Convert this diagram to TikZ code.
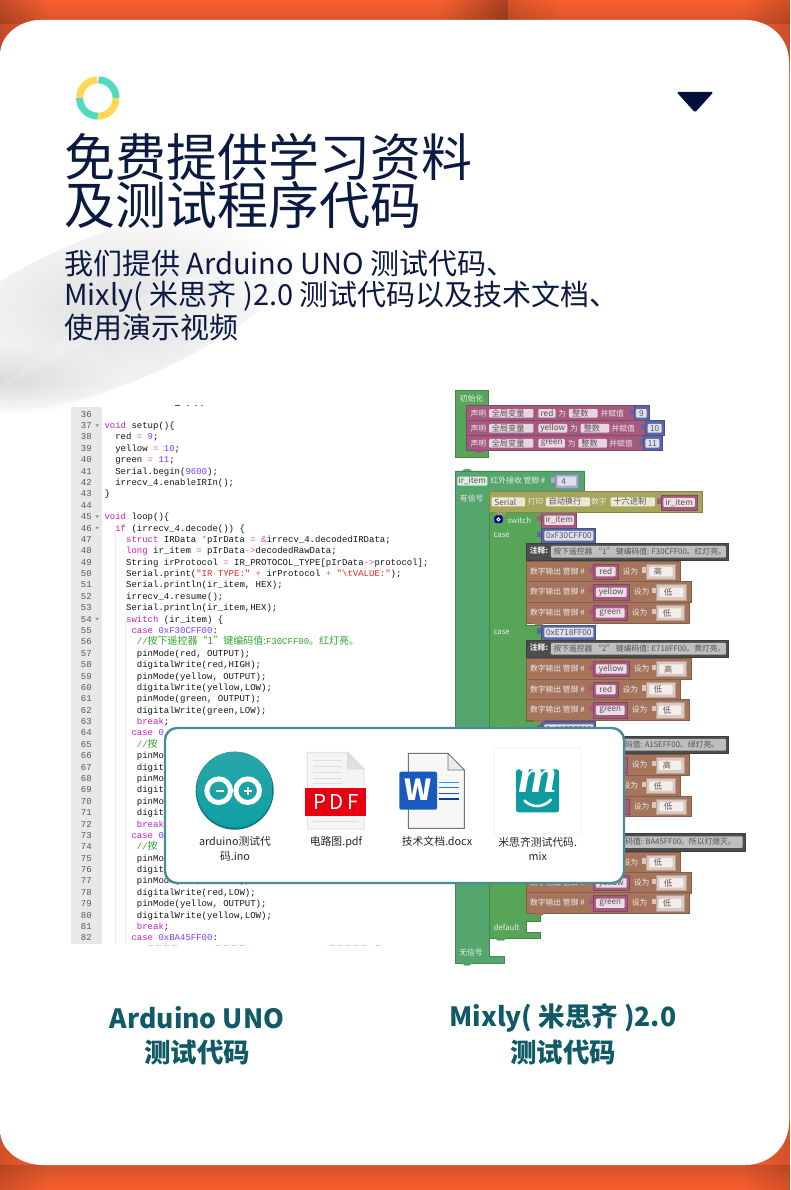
\documentclass[tikz,border=0pt]{standalone}
\usepackage{fontspec}
\usetikzlibrary{fadings,shadings}
\setmainfont{Noto Sans CJK SC}
\newfontfamily\cjk{Noto Sans CJK SC}
\newfontfamily\codef{Liberation Mono}
\newfontfamily\mfont{Liberation Serif}
\definecolor{navy}{HTML}{0A1A40}
\definecolor{tealt}{HTML}{0F5A66}
\definecolor{org}{HTML}{F96030}
\definecolor{kwc}{HTML}{C91CC4}
\definecolor{opc}{HTML}{E04FB0}
\definecolor{nmc}{HTML}{7A3CFF}
\definecolor{stc}{HTML}{E5252A}
\definecolor{cmc}{HTML}{2FA62F}
\definecolor{pk}{HTML}{A5597F}
\definecolor{bl}{HTML}{5B67A5}
\definecolor{olv}{HTML}{A5A55B}
\definecolor{grA}{HTML}{55A66E}
\definecolor{grB}{HTML}{57A557}
\definecolor{brn}{HTML}{A5745B}
\definecolor{fldt}{HTML}{5A5058}
\definecolor{notedk}{HTML}{4D4D4D}
\tikzfading[name=softblob,inner color=transparent!0,outer color=transparent!100]
\newcommand\kw[1]{\textcolor{kwc}{#1}}
\newcommand\op[1]{\textcolor{opc}{#1}}
\newcommand\nm[1]{\textcolor{nmc}{#1}}
\newcommand\strg[1]{\textcolor{stc}{#1}}
\newcommand\cmt[1]{\textcolor{cmc}{#1}}
\newcommand\cmz[1]{{\cjk\fontsize{10}{10}\selectfont #1}}
% code line: number, indent, content
\newcommand\cl[3]{%
  \node[numst] at (92,{414+(#1-36)*11.385+3.2}) {#1};
  \node[codest] at ({104.3+#2*5.4},{414+(#1-36)*11.385+3.2}) {#3};}
\newcommand\fold[1]{\fill[gray!90] (95.3,{414+(#1-36)*11.385-1}) -- ++(3.6,0) -- ++(-1.8,2.4) -- cycle;}
% block primitives in zoom units
\newcommand\bx[5]{\filldraw[fill=#5,draw=#5!80!black,line width=.5pt] (#1,#2) rectangle (#3,#4);}
\newcommand\tabv[3]{\fill[#3] ({#1-13},{#2+10}) rectangle (#1,{#2+26});}
\newcommand\valb[5]{\tabv{#1}{#2}{#5}\bx{#1}{#2}{#3}{#4}{#5}}
\newcommand\bump[3]{\fill[#3] (#1,#2) -- ++(8,7) -- ++(18,0) -- ++(8,-7) -- cycle;}
\newcommand\fd[7]{\fill[#5,rounded corners=1pt] (#1,#2) rectangle (#3,#4);
  \node[fldlab,text=#6] at ({(#1+#3)/2},{(#2+#4)/2}) {#7};}
\newcommand\dd[7]{\fill[#5,rounded corners=1pt] (#1,#2) rectangle (#3,#4);
  \node[fldlab,text=#6] at ({(#1+#3)/2-9},{(#2+#4)/2}) {#7};
  \fill[#6!50!#5] ({#3-20},{(#2+#4)/2-3}) -- ++(8,0) -- ++(-4,6) -- cycle;}
\newcommand\lab[3]{\node[whlab] at (#1,#2) {#3};}
% declaration row: y0, var field end, "wei" x, int x0, int x1, bingfu x, val x0, val x1, var
\newcommand\decl[9]{%
  \bx{50}{#1}{#7}{#1+45}{pk}
  \lab{85}{#1+23}{声明}
  \dd{117}{#1+10}{250}{#1+36}{pk!25!white}{fldt}{全局变量}
  \fd{265}{#1+10}{#2}{#1+36}{pk!25!white}{fldt}{#9}
  \lab{#3}{#1+23}{为}
  \dd{#4}{#1+10}{#5}{#1+36}{pk!25!white}{fldt}{整数}
  \lab{#6}{#1+23}{并赋值}
  \valb{#7}{#1}{#8}{#1+45}{bl}}
% output row: y0, xr, pink end, name, sheweix, light0, light1, val
\newcommand\brow[8]{%
  \bx{228}{#1}{#2}{#1+62}{brn}
  \lab{322}{#1+31}{数字输出 管脚 \#}
  \valb{430}{#1+9}{#3}{#1+55}{pk}
  \fd{438}{#1+18}{#3-8}{#1+46}{pk!20!white}{fldt}{#4}
  \lab{#5}{#1+31}{设为}
  \valb{#6}{#1+9}{#7}{#1+55}{brn!40!white}
  \dd{#6+8}{#1+18}{#7-8}{#1+46}{brn!12!white}{fldt}{#8}
  \bump{250}{#1+62}{brn}}
% same row where the popup hides its left part
\newcommand\browh[7]{%
  \bx{228}{#1}{#2}{#1+62}{brn}
  \valb{430}{#1+9}{#3}{#1+55}{pk}
  \lab{#4}{#1+31}{设为}
  \valb{#5}{#1+9}{#6}{#1+55}{brn!40!white}
  \dd{#5+8}{#1+18}{#6-8}{#1+46}{brn!12!white}{fldt}{#7}
  \bump{250}{#1+62}{brn}}
\newcommand\notebk[3]{%
  \bx{228}{#1}{#2}{#1+53}{notedk}
  \node[whlab,font=\fontsize{7.8}{9}\selectfont\bfseries] at (267,#1+23) {注释:};
  \fill[black!25,rounded corners=1pt] (303,#1+9) rectangle ({#2-7},#1+44);
  #3
  \bump{250}{#1+53}{notedk}}
% same note where the popup hides its left part
\newcommand\notebh[3]{%
  \bx{228}{#1}{#2}{#1+53}{notedk}
  \fill[black!25,rounded corners=1pt] (303,#1+9) rectangle ({#2-7},#1+44);
  #3
  \bump{250}{#1+53}{notedk}}
\newcommand\casev[2]{%
  \valb{275}{#1}{437}{#1+45}{bl}
  \fd{283}{#1+8}{430}{#1+37}{bl!20!white}{fldt}{#2}}
\tikzset{
  numst/.style={anchor=base east,inner sep=0pt,text=black!65,font=\codef\fontsize{9}{9}\selectfont},
  codest/.style={anchor=base west,inner sep=0pt,text=black!92,font=\codef\fontsize{9}{9}\selectfont},
  fldlab/.style={inner sep=0pt,font=\fontsize{8.2}{9}\selectfont},
  notelab/.style={inner sep=0pt,text=fldt,font=\fontsize{7.8}{9}\selectfont},
  whlab/.style={inner sep=0pt,text=white!92!black,font=\fontsize{7.8}{9}\selectfont},
  filelab/.style={align=center,inner sep=0pt,text=black!85,font=\fontsize{10.8}{14.3}\selectfont},
  bigttl/.style={anchor=west,inner sep=0pt,text=navy,font=\fontsize{51}{51}\selectfont},
  subttl/.style={anchor=west,inner sep=0pt,text=navy,font=\fontsize{29}{30}\selectfont},
  lowttl/.style={inner sep=0pt,text=tealt,font=\fontsize{26.5}{28}\selectfont\bfseries},
}
\begin{document}
\begin{tikzpicture}[x=1pt,y=-1pt]
\path[use as bounding box] (0,0) rectangle (790,1190);
% ---- orange backdrop
\fill[org] (0,0) rectangle (790,1190);
\shade[top color=org,bottom color=org!86!black] (0,0) rectangle (790,24);
\shade[top color=org!86!black,bottom color=org] (0,1165) rectangle (790,1190);
\fill[black,opacity=.22,path fading=east] (0,0) rectangle (50,70);
\fill[black,opacity=.18,path fading=west] (740,0) rectangle (790,70);
\fill[black,opacity=.16,path fading=east] (0,1120) rectangle (50,1190);
\fill[black,opacity=.14,path fading=west] (740,1120) rectangle (790,1190);
\fill[black,opacity=.32,path fading=west] (440,0) rectangle (508,21);
\fill[black,opacity=.14,path fading=east] (508,0) rectangle (560,21);
% ---- card
\fill[white] (0,55) .. controls (0,35) and (20,20) .. (40,20) -- (745,20)
  .. controls (770,20) and (789,38) .. (789,62) -- (789,1122)
  .. controls (789,1146) and (770,1165) .. (745,1165) -- (43,1165)
  .. controls (20,1165) and (0,1150) .. (0,1130) -- cycle;
% ---- feather
\begin{scope}
\clip (0,200) rectangle (340,420);
\begin{scope}[rotate around={22:(110,310)}]
\fill[black!12,path fading=softblob] (110,310) ellipse [x radius=210,y radius=75];
\end{scope}
\fill[black!15,path fading=softblob] (0,380) ellipse [x radius=120,y radius=34];
\foreach \i in {0,...,22}{
  \draw[white,line width=.5pt,opacity=.35] ({-5+\i*9},{392-\i*5}) .. controls ({50+\i*10},{345-\i*4}) and ({110+\i*8},{310-\i*3}) .. ({185+\i*5},{278-\i*1.4});
}
\end{scope}
% ---- logo ring
\draw[line width=7pt,color={rgb,255:red,85;green,216;blue,193}] (98.5,79.8) arc[start angle=-88,end angle=0,radius=18.2];
\draw[line width=7pt,color={rgb,255:red,255;green,216;blue,84}] (116,98) arc[start angle=0,end angle=90,radius=18.2];
\draw[line width=7pt,color={rgb,255:red,85;green,216;blue,193}] (97.8,116.2) arc[start angle=90,end angle=180,radius=18.2];
\draw[line width=7pt,color={rgb,255:red,255;green,216;blue,84}] (79.6,98) arc[start angle=180,end angle=268,radius=18.2];
% ---- triangle
\fill[color={rgb,255:red,2;green,15;blue,58},rounded corners=1.5pt] (676.5,92) -- (713.5,92) -- (695,112.5) -- cycle;
% ---- titles
\node[bigttl] at (64,157) {免费提供学习资料};
\node[bigttl] at (64,205) {及测试程序代码};
\node[subttl] at (64,264) {我们提供 Arduino UNO 测试代码、};
\node[subttl] at (64,297) {Mixly( 米思齐 )2.0 测试代码以及技术文档、};
\node[subttl] at (64,327) {使用演示视频};
% ---- code panel
\fill[black!9] (71,407) rectangle (101.7,944);
\draw[black!7,line width=.8pt] (115,530) -- (115,944);
\draw[black!7,line width=.8pt] (125.7,620) -- (125.7,944);
\fill[black!70] (175,405) rectangle (180,406.2);
\fill[black!50] (187,405) rectangle (189,406.2);
\fill[black!50] (195,405) rectangle (197,406.2);
\fill[black!50] (201,405) rectangle (203,406.2);
\foreach \xx in {148,156,164,172,216,224,232,240,330,338,346,354,362,376}{\fill[cmc!30] (\xx,945) rectangle ({\xx+5},946);}
\cl{36}{0}{}
\cl{37}{0}{\kw{void} setup()\{}\fold{37}
\cl{38}{2}{red \op{=} \nm{9};}
\cl{39}{2}{yellow \op{=} \nm{10};}
\cl{40}{2}{green \op{=} \nm{11};}
\cl{41}{2}{Serial.begin(\nm{9600});}
\cl{42}{2}{irrecv\_4.enableIRIn();}
\cl{43}{0}{\}}
\cl{44}{0}{}
\cl{45}{0}{\kw{void} loop()\{}\fold{45}
\cl{46}{2}{\kw{if} (irrecv\_4.decode()) \{}\fold{46}
\cl{47}{4}{\kw{struct} IRData \op{*}pIrData \op{=} \op{\&}irrecv\_4.decodedIRData;}
\cl{48}{4}{\kw{long} ir\_item \op{=} pIrData\op{->}decodedRawData;}
\cl{49}{4}{String irProtocol \op{=} IR\_PROTOCOL\_TYPE[pIrData\op{->}protocol];}
\cl{50}{4}{Serial.print(\strg{"IR TYPE:"} \op{+} irProtocol \op{+} \strg{"\textbackslash tVALUE:"});}
\cl{51}{4}{Serial.println(ir\_item, HEX);}
\cl{52}{4}{irrecv\_4.resume();}
\cl{53}{4}{Serial.println(ir\_item,HEX);}
\cl{54}{4}{\kw{switch} (ir\_item) \{}\fold{54}
\cl{55}{5}{\kw{case} \nm{0xF30CFF00}:}
\cl{56}{6}{\cmt{//\cmz{按下遥控器“1”键编码值:}F30CFF00\cmz{。红灯亮。}}}
\cl{57}{6}{pinMode(red, OUTPUT);}
\cl{58}{6}{digitalWrite(red,HIGH);}
\cl{59}{6}{pinMode(yellow, OUTPUT);}
\cl{60}{6}{digitalWrite(yellow,LOW);}
\cl{61}{6}{pinMode(green, OUTPUT);}
\cl{62}{6}{digitalWrite(green,LOW);}
\cl{63}{6}{\kw{break};}
\cl{64}{5}{\kw{case} \nm{0}}
\cl{65}{6}{\cmt{//\cmz{按}}}
\cl{66}{6}{pinMod}
\cl{67}{6}{digita}
\cl{68}{6}{pinMod}
\cl{69}{6}{digita}
\cl{70}{6}{pinMod}
\cl{71}{6}{digita}
\cl{72}{6}{\kw{break}}
\cl{73}{5}{\kw{case} \nm{0}}
\cl{74}{6}{\cmt{//\cmz{按}}}
\cl{75}{6}{pinMod}
\cl{76}{6}{digita}
\cl{77}{6}{pinMode(red, OUTPUT);}
\cl{78}{6}{digitalWrite(red,LOW);}
\cl{79}{6}{pinMode(yellow, OUTPUT);}
\cl{80}{6}{digitalWrite(yellow,LOW);}
\cl{81}{6}{\kw{break};}
\cl{82}{5}{\kw{case} \nm{0xBA45FF00}:}
% ---- blocks (units: 1/3 px, origin at 450,385)
\begin{scope}[shift={(450,385)},x=.3333pt,y=-.3333pt]
% init
\filldraw[fill=grB,draw=grB!80!black,line width=.5pt] (16,16) -- (116,16) -- (116,60) -- (50,60) -- (50,197) -- (116,197) -- (116,217) -- (16,217) -- cycle;
\lab{65}{40}{初始化}
\decl{62}{317}{337}{357}{443}{487}{552}{597}{red}
\fd{558}{72}{590}{98}{bl!20!white}{fldt}{9}
\decl{107}{352}{372}{392}{478}{520}{587}{644}{yellow}
\fd{593}{117}{635}{143}{bl!20!white}{fldt}{10}
\decl{152}{345}{365}{385}{471}{513}{580}{637}{green}
\fd{586}{162}{628}{188}{bl!20!white}{fldt}{11}
\bump{70}{197}{pk}
% outer ir_item block
\filldraw[fill=grA,draw=grA!80!black,line width=.5pt] (16,258) -- (402,258) -- (402,320) -- (118,320) -- (118,1680) -- (118,1715) -- (163,1715) -- (163,1735) -- (16,1735) -- cycle;
\fill[grA] (36,258) -- (44,252) -- (58,252) -- (66,258) -- cycle;
\fd{22}{275}{112}{302}{grA!20!white}{fldt}{ir\_item}
\lab{204}{288}{红外接收 管脚 \#}
\valb{315}{267}{385}{310}{bl!55!white}
\dd{322}{275}{378}{302}{bl!20!white}{fldt}{4}
\lab{65}{342}{有信号}
\lab{63}{1702}{无信号}
\fill[grA] (36,1735) -- (44,1742) -- (58,1742) -- (66,1735) -- cycle;
% switch
\filldraw[fill=grB,draw=grB!80!black,line width=.5pt] (118,382) -- (275,382) -- (275,475) -- (228,475) -- (228,720) -- (275,720) -- (275,765) -- (228,765) -- (228,1010) -- (275,1010) -- (275,1055) -- (228,1055) -- (228,1585) -- (272,1585) -- (272,1610) -- (228,1610) -- (228,1643) -- (272,1643) -- (272,1660) -- (118,1660) -- cycle;
\bump{135}{1660}{grB}
\filldraw[fill=blue!65!black,draw=blue!65!black,rounded corners=1.5pt] (134,392) rectangle (157,414);
\draw[white,line width=1pt] (145.5,403) circle [radius=4.5];
\lab{208}{405}{switch}
\valb{275}{383}{380}{430}{pk}
\fd{283}{392}{372}{420}{pk!20!white}{fldt}{ir\_item}
\lab{155}{452}{case}
\casev{430}{0xF30CFF00}
\lab{155}{742}{case}
\casev{720}{0xE718FF00}
\lab{155}{1032}{case}
\casev{1010}{0xA15EFF00}
\lab{170}{1628}{default}
% serial
\bx{118}{320}{758}{382}{olv}
\bump{135}{382}{olv}
\dd{125}{337}{225}{364}{olv!25!white}{fldt}{Serial}
\lab{257}{351}{打印}
\dd{288}{337}{420}{364}{olv!25!white}{fldt}{自动换行}
\lab{447}{351}{数字}
\dd{482}{337}{615}{364}{olv!25!white}{fldt}{十六进制}
\valb{634}{330}{742}{375}{pk}
\fd{640}{339}{735}{366}{pk!20!white}{fldt}{ir\_item}
% case 1
\notebk{474}{835}{\node[notelab,anchor=west] at (310,474+26) {按下遥控器 “1” 键编码值: F30CFF00。红灯亮。};}
\brow{528}{690}{505}{red}{541}{590}{676}{高}
\brow{590}{724}{538}{yellow}{575}{620}{708}{低}
\brow{652}{718}{532}{green}{569}{618}{702}{低}
% case 2
\notebk{765}{835}{\node[notelab,anchor=west] at (310,765+26) {按下遥控器 “2” 键编码值: E718FF00。黄灯亮。};}
\brow{820}{724}{538}{yellow}{575}{620}{708}{高}
\brow{882}{690}{505}{red}{541}{590}{676}{低}
\brow{944}{718}{532}{green}{569}{618}{702}{低}
% case 3
\notebh{1053}{835}{\node[notelab,anchor=east] at (808,1053+26) {码值: A15EFF00。绿灯亮。};}
\browh{1109}{718}{532}{569}{618}{702}{高}
\browh{1171}{690}{505}{541}{590}{676}{低}
\browh{1233}{724}{538}{575}{620}{708}{低}
% case 4
\notebh{1345}{885}{\node[notelab,anchor=east] at (858,1345+26) {码值: BA45FF00。所以灯熄灭。};}
\browh{1401}{690}{505}{541}{590}{676}{低}
\brow{1462}{724}{538}{yellow}{575}{620}{708}{低}
\brow{1523}{718}{532}{green}{569}{618}{702}{低}
\end{scope}
% ---- popup
\filldraw[fill=white,draw={rgb,255:red,74;green,140;blue,148},line width=2.4pt,rounded corners=12pt] (165,728) rectangle (624,883);
% arduino icon
\fill[color={rgb,255:red,14;green,120;blue,128}] (234.7,790.7) circle [radius=39];
\shade[top color={rgb,255:red,42;green,165;blue,168},bottom color={rgb,255:red,14;green,160;blue,164}] (234.7,789.7) circle [radius=38];
\draw[white,line width=5pt] (218.7,790.7) circle [radius=11.8];
\draw[white,line width=5pt] (247.7,790.7) circle [radius=11.8];
\fill[white] (215.5,789.5) rectangle (223.5,792);
\fill[white] (244,789.5) rectangle (252,792);
\fill[white] (246.7,786.7) rectangle (249.2,794.7);
% pdf icon
\filldraw[fill=black!4,draw=black!15,line width=.8pt] (307.3,752.3) -- (347.5,752.3) -- (364,769) -- (364,829) -- (307.3,829) -- cycle;
\filldraw[fill=black!12,draw=black!15,line width=.6pt] (347.5,752.3) -- (347.5,769) -- (364,769) -- cycle;
\foreach \yy in {760,766,772,778,783}{\draw[black!13,line width=.9pt] (313,\yy) -- (342,\yy);}
\draw[black!13,line width=.9pt] (313,821) -- (358,821);
\fill[color={rgb,255:red,230;green,0;blue,18}] (305.3,787.7) rectangle (366.3,815.7);
\node[inner sep=0pt,text=white,font=\fontsize{20.5}{20}\selectfont] at (335.8,801.5) {P\,D\,F};
% word icon
\filldraw[fill=black!3,draw=black!55,line width=.9pt] (408.3,753.3) -- (448,753.3) -- (464.3,770) -- (464.3,828.3) -- (408.3,828.3) -- cycle;
\filldraw[fill=black!8,draw=black!55,line width=.7pt] (448,753.3) -- (448,770) -- (464.3,770) -- cycle;
\fill[color={rgb,255:red,24;green,90;blue,189},rounded corners=2pt] (399.3,771.7) rectangle (437,809.7);
\node[inner sep=0pt,text=white,font=\fontsize{29}{29}\selectfont\bfseries] at (418.2,790) {W};
\draw[color={rgb,255:red,43;green,156;blue,242},line width=1.5pt] (439.3,782.3) -- (459.3,782.3);
\draw[color={rgb,255:red,37;green,117;blue,216},line width=1.5pt] (439.3,787.7) -- (459.3,787.7);
\draw[color={rgb,255:red,26;green,79;blue,184},line width=1.5pt] (439.3,793.3) -- (459.3,793.3);
\draw[color={rgb,255:red,16;green,63;blue,145},line width=1.5pt] (439.3,799) -- (459.3,799);
% mixly icon
\filldraw[fill=white,draw=black!7,line width=.8pt,rounded corners=1pt] (494.3,747.7) rectangle (580.7,833.7);
\fill[color={rgb,255:red,14;green,155;blue,160},rounded corners=2.5pt] (516,769.3) rectangle (559,812.3);
\node[inner sep=0pt,text=white,font=\mfont\fontsize{50}{50}\selectfont\bfseries\itshape] at (537.5,781) {m};
\draw[white,line width=2.6pt,line cap=round] (524.5,800.5) .. controls (531,808) and (544,808) .. (551,799.5);
% file names
\node[filelab] at (235,849) {arduino测试代\\码.ino};
\node[filelab] at (336,841.7) {电路图.pdf};
\node[filelab] at (437,841.7) {技术文档.docx};
\node[filelab] at (537.7,849) {米思齐测试代码.\\mix};
% ---- lower captions
\node[lowttl] at (197,1018) {Arduino UNO};
\node[lowttl] at (197,1052) {测试代码};
\node[lowttl] at (563,1018) {Mixly( 米思齐 )2.0};
\node[lowttl] at (563,1052) {测试代码};
\end{tikzpicture}
\end{document}
